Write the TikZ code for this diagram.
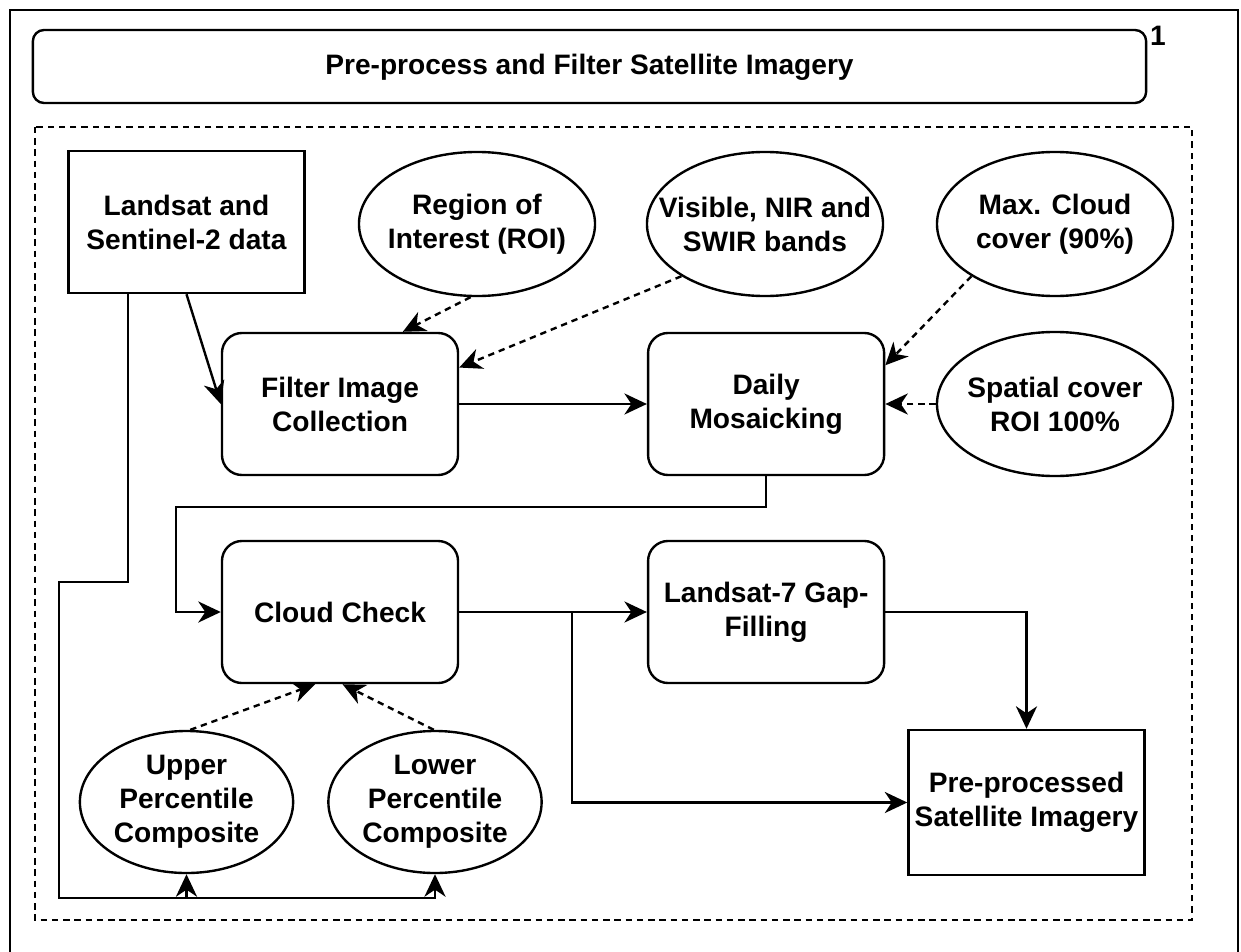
\documentclass[tikz,border=0pt]{standalone}
\usepackage{fontspec}
\setmainfont{Liberation Sans}
\usetikzlibrary{arrows.meta,shapes.geometric}

\begin{document}
\begin{tikzpicture}[
        x=0.025cm, y=-0.025cm,
        node distance=10.65cm, % same spacing for both rows of boxes
        every node/.style={font=\fontsize{20}{24.2}\selectfont\bfseries, align=center},
        box/.style={draw, line width=1.7pt, minimum width=5.9cm, minimum height=3.55cm, inner sep=0pt},
        roundbox/.style={box, rounded corners=0.5cm},
        oval/.style={draw, ellipse, line width=1.7pt, minimum width=5.9cm, minimum height=3.6cm, inner sep=0pt},
        line/.style={line width=1.7pt, -{Stealth[length=16pt,width=15pt,inset=5pt]}},
        hint/.style={line, dash pattern=on 4.5pt off 3.5pt},
    ]
    \useasboundingbox (0,0) rectangle (1241,952);

    % Frame and heading
    \draw[line width=1.7pt] (10,952) -- (10,10) -- (1238,10) -- (1238,952);
    \node[box, rounded corners=0.28cm, minimum width=27.825cm, minimum height=1.825cm, text depth=0.12cm] (title) at (589.5,66.5) {Pre-process and Filter Satellite Imagery};
    \node (num) at (1158,36) {1};
    \draw[line width=1.7pt, dash pattern=on 4.5pt off 3.5pt] (35,127) rectangle (1192,920);

    % Define nodes
    \node[box] (landsat) at (186.5,222) {Landsat and\\Sentinel-2 data};
    \node[oval, label={center:Region of\\Interest (ROI)}] (roi) at (477,224) {};
    \node[oval, label={center:Visible, NIR and\\SWIR bands}] (bands) at (765,224) {};
    \node[oval, label={center:Max. Cloud\\cover (90\%)}] (maxcloud) at (1055,224) {};
    \node[roundbox] (filter) at (340,404) {Filter Image\\Collection};
    \node[roundbox, right of=filter] (mosaic) {Daily\\Mosaicking};
    \node[oval, label={center:Spatial cover\\ROI 100\%}] (spatial) at (1055,404) {};
    \node[roundbox] (cloudcheck) at (340,612) {Cloud Check};
    \node[roundbox, right of=cloudcheck] (gapfill) {Landsat-7 Gap-\\Filling};
    \node[box, minimum height=3.625cm] (output) at (1026.5,802.5) {Pre-processed\\Satellite Imagery};
    \node[oval, minimum width=5.33cm, minimum height=3.55cm, label={center:Upper\\Percentile\\Composite}] (upper) at (186.5,802) {};
    \node[oval, minimum width=5.33cm, minimum height=3.55cm, label={center:Lower\\Percentile\\Composite}] (lower) at (435,802) {};

    % Inputs of the filtering and mosaicking
    \draw[line] (landsat.south) -- (filter.west);
    \draw[hint] (roi.265) -- (filter.49);
    \draw[hint] (bands.212) -- (filter.17);
    \draw[line] (filter.east) -- (mosaic.west);
    \draw[hint] (maxcloud.212) -- (mosaic.18);
    \draw[hint] (spatial.west) -- (mosaic.east);

    % Cloud check and gap filling
    \coordinate (loop) at (176,507);
    \draw[line] (mosaic.south) |- (loop) |- (cloudcheck.west);
    \draw[line] (cloudcheck.east) -- (gapfill.west);
    \coordinate (split) at (572,612);
    \draw[line] (split) |- (output.west);
    \draw[line] (gapfill.east) -| (output.north);

    % Percentile composites
    \draw[hint] (upper.87) -- (cloudcheck.251);
    \draw[hint] (lower.91) -- (cloudcheck.272);
    \coordinate (jog) at (59,582);
    \coordinate (bus) at (59,898);
    \draw[line] ([xshift=-1.46cm]landsat.south) |- (jog) -- (bus) -| (lower.south);
    \draw[line] (bus) -| (upper.south);
\end{tikzpicture}
\end{document}
